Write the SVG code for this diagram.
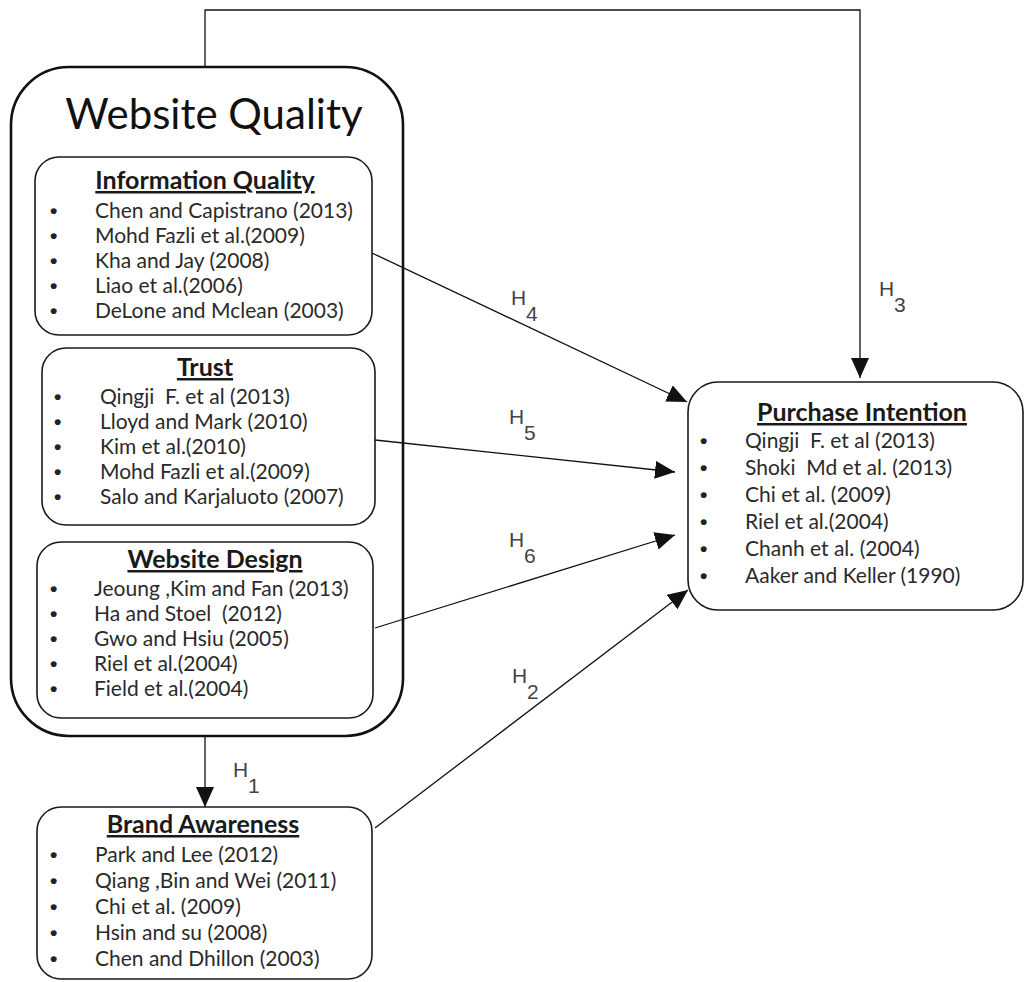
<svg xmlns="http://www.w3.org/2000/svg" width="1025" height="982" viewBox="0 0 1025 982">
  <style>
    .box { fill: #ffffff; stroke: #1a1a1a; stroke-width: 1.6; }
    .outer { fill: #ffffff; stroke: #111111; stroke-width: 2.6; }
    .title { font-family: Lato, "Liberation Sans", sans-serif; font-size: 25px; font-weight: bold; fill: #1a1a1a; text-anchor: middle; text-decoration: underline; }
    .item { font-family: Lato, "Liberation Sans", sans-serif; font-size: 21px; fill: #2a2a2a; }
    .bullet { font-family: "Liberation Sans", sans-serif; font-size: 21px; font-weight: bold; fill: #222222; }
    .big { font-family: Lato, "Liberation Sans", sans-serif; font-size: 42px; fill: #111111; text-anchor: middle; }
    .link { fill: none; stroke: #111111; stroke-width: 1.3; marker-end: url(#head); }
    .hlab { font-family: "Liberation Sans", sans-serif; font-size: 21px; fill: #444444; }
  </style>
  <defs>
    <marker id="head" markerUnits="userSpaceOnUse" markerWidth="22" markerHeight="20" refX="20" refY="9" orient="auto">
      <path d="M0,0 L20,9 L0,18 Z" fill="#111111"/>
    </marker>
  </defs>

  <rect width="1025" height="982" fill="#ffffff"/>

  <!-- Website Quality container -->
  <g id="website-quality">
    <rect class="outer" x="11" y="67" width="392" height="669" rx="58" ry="58"/>
    <text class="big" x="214" y="129">Website Quality</text>
  </g>

  <g id="information-quality">
    <rect class="box" x="35" y="157" width="337" height="178" rx="24" ry="24"/>
    <text class="title" x="205" y="189">Information Quality</text>
    <g class="bullet">
      <text x="50" y="218">•</text><text x="50" y="243">•</text><text x="50" y="268">•</text><text x="50" y="293">•</text><text x="50" y="318">•</text>
    </g>
    <g class="item">
      <text x="95" y="218">Chen and Capistrano (2013)</text>
      <text x="95" y="243">Mohd Fazli et al.(2009)</text>
      <text x="95" y="268">Kha and Jay (2008)</text>
      <text x="95" y="293">Liao et al.(2006)</text>
      <text x="95" y="318">DeLone and Mclean (2003)</text>
    </g>
  </g>

  <g id="trust">
    <rect class="box" x="42" y="348" width="333" height="177" rx="24" ry="24"/>
    <text class="title" x="205" y="376">Trust</text>
    <g class="bullet">
      <text x="54" y="404">•</text><text x="54" y="429">•</text><text x="54" y="454">•</text><text x="54" y="479">•</text><text x="54" y="504">•</text>
    </g>
    <g class="item">
      <text x="100" y="404" xml:space="preserve">Qingji  F. et al (2013)</text>
      <text x="100" y="429">Lloyd and Mark (2010)</text>
      <text x="100" y="454">Kim et al.(2010)</text>
      <text x="100" y="479">Mohd Fazli et al.(2009)</text>
      <text x="100" y="504">Salo and Karjaluoto (2007)</text>
    </g>
  </g>

  <g id="website-design">
    <rect class="box" x="37" y="542" width="336" height="176" rx="24" ry="24"/>
    <text class="title" x="215" y="568">Website Design</text>
    <g class="bullet">
      <text x="50" y="596">•</text><text x="50" y="621">•</text><text x="50" y="646">•</text><text x="50" y="671">•</text><text x="50" y="696">•</text>
    </g>
    <g class="item">
      <text x="94" y="596">Jeoung ,Kim and Fan (2013)</text>
      <text x="94" y="621" xml:space="preserve">Ha and Stoel  (2012)</text>
      <text x="94" y="646">Gwo and Hsiu (2005)</text>
      <text x="94" y="671">Riel et al.(2004)</text>
      <text x="94" y="696">Field et al.(2004)</text>
    </g>
  </g>

  <g id="brand-awareness">
    <rect class="box" x="37" y="807" width="335" height="172" rx="24" ry="24"/>
    <text class="title" x="203" y="833">Brand Awareness</text>
    <g class="bullet">
      <text x="50" y="862">•</text><text x="50" y="888">•</text><text x="50" y="914">•</text><text x="50" y="940">•</text><text x="50" y="966">•</text>
    </g>
    <g class="item">
      <text x="95" y="862">Park and Lee (2012)</text>
      <text x="95" y="888">Qiang ,Bin and Wei (2011)</text>
      <text x="95" y="914">Chi et al. (2009)</text>
      <text x="95" y="940">Hsin and su (2008)</text>
      <text x="95" y="966">Chen and Dhillon (2003)</text>
    </g>
  </g>

  <g id="purchase-intention">
    <rect class="box" x="688" y="382" width="335" height="228" rx="30" ry="30"/>
    <text class="title" x="862" y="421">Purchase Intention</text>
    <g class="bullet">
      <text x="700" y="448">•</text><text x="700" y="475">•</text><text x="700" y="502">•</text><text x="700" y="529">•</text><text x="700" y="556">•</text><text x="700" y="583">•</text>
    </g>
    <g class="item">
      <text x="745" y="448" xml:space="preserve">Qingji  F. et al (2013)</text>
      <text x="745" y="475" xml:space="preserve">Shoki  Md et al. (2013)</text>
      <text x="745" y="502">Chi et al. (2009)</text>
      <text x="745" y="529">Riel et al.(2004)</text>
      <text x="745" y="556">Chanh et al. (2004)</text>
      <text x="745" y="583">Aaker and Keller (1990)</text>
    </g>
  </g>

  <!-- hypothesis paths -->
  <g id="connectors">
    <path class="link" d="M205,67 L205,10 L860,10 L860,378"/>
    <path class="link" d="M205,736 L205,807"/>
    <path class="link" d="M372,253 L687,402"/>
    <path class="link" d="M375,440 L675,472"/>
    <path class="link" d="M375,628 L675,535"/>
    <path class="link" d="M375,828 L688,590"/>
  </g>

  <g id="labels" class="hlab">
    <text x="233" y="777">H</text><text x="248" y="793">1</text>
    <text x="512" y="683">H</text><text x="527" y="699">2</text>
    <text x="879" y="296">H</text><text x="894" y="312">3</text>
    <text x="511" y="305">H</text><text x="526" y="321">4</text>
    <text x="509" y="424">H</text><text x="524" y="440">5</text>
    <text x="509" y="547">H</text><text x="524" y="563">6</text>
  </g>
</svg>
